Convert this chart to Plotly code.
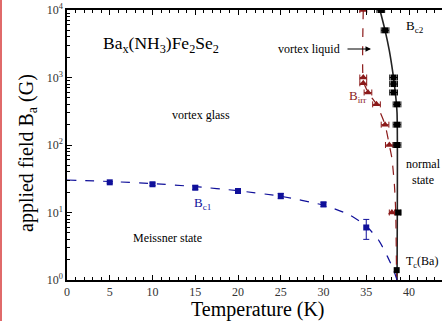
import plotly.graph_objects as go

# ---- data ----
bc1_T = [5, 10, 15, 20, 25, 30, 35]
bc1_B = [28.0, 26.2, 23.3, 20.8, 17.6, 13.2, 6.0]
bc1_err_up = [0.8, 1.2, 1.5, 1.5, 1.6, 1.0, 1.9]
bc1_err_dn = [0.8, 1.2, 1.5, 1.5, 1.6, 1.0, 2.0]

bc1_fit_T = [0, 5, 10, 15, 20, 25, 30, 33, 35, 36.5, 37.5, 38.2, 38.6]
bc1_fit_B = [30.3, 28.8, 26.8, 24.2, 21.0, 17.4, 12.8, 9.3, 6.3, 3.8, 2.2, 1.4, 1.0]

bc2_T = [36.7, 37.2, 38.2, 38.2, 38.2, 38.6, 38.6, 38.6, 38.75]
bc2_B = [10000, 5000, 1000, 800, 600, 400, 200, 100, 10]
bc2_Terr = [0.45, 0.45, 0.45, 0.45, 0.45, 0.45, 0.45, 0.45, 0.3]

tc_T = [38.56]
tc_B = [1.4]

bc2_line_T = [36.6, 37.2, 37.7, 38.1, 38.4, 38.6, 38.6]
bc2_line_B = [10000, 5000, 2500, 1200, 600, 300, 1]

birr_T = [34.65, 34.65, 34.65, 35.2, 36.2, 37.2, 37.7, 38.0]
birr_B = [10000, 1000, 820, 600, 400, 200, 100, 10]
birr_Terr = [0.4, 0.4, 0.4, 0.45, 0.45, 0.45, 0.45, 0.3]

birr_line_T = [34.65, 34.65, 35.2, 36.2, 37.2, 37.7, 38.0, 38.3, 38.45, 38.55]
birr_line_B = [10000, 900, 600, 400, 200, 100, 64, 25, 10, 1]

y_tickvals = [1, 10, 100, 1000, 10000]
y_ticktext = ["10<sup>0</sup>", "10<sup>1</sup>", "10<sup>2</sup>", "10<sup>3</sup>", "10<sup>4</sup>"]
x_tickvals = [0, 5, 10, 15, 20, 25, 30, 35, 40]

BLUE = "#10109a"
RED = "#8b1a1a"
SERIF = "Liberation Serif, Times New Roman, serif"

fig = go.Figure()

# Bc2 solid line
fig.add_trace(go.Scatter(x=bc2_line_T, y=bc2_line_B, mode="lines",
                         line=dict(color="#222222", width=1.6, shape="spline", smoothing=0.6),
                         hoverinfo="skip", showlegend=False))
# Birr dashed line
fig.add_trace(go.Scatter(x=birr_line_T, y=birr_line_B, mode="lines",
                         line=dict(color=RED, width=1.2, dash="dash", shape="spline", smoothing=0.5),
                         hoverinfo="skip", showlegend=False))
# Bc1 dashed fit
fig.add_trace(go.Scatter(x=bc1_fit_T, y=bc1_fit_B, mode="lines",
                         line=dict(color=BLUE, width=1.2, dash="dash", shape="spline", smoothing=0.6),
                         hoverinfo="skip", showlegend=False))

# Bc1 points
fig.add_trace(go.Scatter(x=bc1_T, y=bc1_B, mode="markers",
                         marker=dict(symbol="square", size=6, color=BLUE),
                         error_y=dict(type="data", array=bc1_err_up, arrayminus=bc1_err_dn,
                                      color=BLUE, thickness=1, width=3),
                         showlegend=False))
# Birr points
fig.add_trace(go.Scatter(x=birr_T, y=birr_B, mode="markers",
                         marker=dict(symbol="triangle-up", size=7, color=RED),
                         error_x=dict(type="data", array=birr_Terr, color=RED, thickness=1, width=3),
                         showlegend=False))
# Bc2 points
fig.add_trace(go.Scatter(x=bc2_T, y=bc2_B, mode="markers",
                         marker=dict(symbol="square", size=6, color="black"),
                         error_x=dict(type="data", array=bc2_Terr, color="black", thickness=1, width=3),
                         showlegend=False))
# Tc point
fig.add_trace(go.Scatter(x=tc_T, y=tc_B, mode="markers",
                         marker=dict(symbol="square", size=6, color="black"),
                         showlegend=False))

def T(px):
    return (px - 67) / 8.55

def L(py):
    return (280 - py) / 67.5

ann = []
def txt(text, xp, yp, size, color="black", xanchor="left"):
    ann.append(dict(text=text, x=T(xp), y=L(yp), xref="x", yref="y", showarrow=False,
                    xanchor=xanchor, yanchor="middle",
                    font=dict(family=SERIF, size=size, color=color)))

txt("Ba<sub>x</sub>(NH<sub>3</sub>)Fe<sub>2</sub>Se<sub>2</sub>", 101, 44, 17.5)
txt("vortex glass", 201, 115, 12, xanchor="center")
txt("vortex liquid", 342, 49, 12, xanchor="right")
txt("B<sub>c2</sub>", 404, 26, 13)
txt("B<sub>irr</sub>", 347, 96, 13, color=RED)
txt("normal<br>state", 404, 172, 12)
txt("T<sub>c</sub>(Ba)", 404, 262, 12)
txt("B<sub>c1</sub>", 192, 203, 13, color=BLUE)
txt("Meissner state", 167, 238, 12, xanchor="center")

# arrow for vortex liquid
ann.append(dict(x=T(371), y=L(49), xref="x", yref="y", ax=T(346), ay=L(49),
                axref="x", ayref="y", text="", showarrow=True, arrowhead=2,
                arrowsize=1, arrowwidth=1.1, arrowcolor="black"))

# axis titles
ann.append(dict(text="applied field B<sub>a</sub> (G)", x=-40 / 375, y=0.5 - 8 / 270, xref="paper", yref="paper",
                showarrow=False, textangle=-90, xanchor="center", yanchor="middle",
                font=dict(family=SERIF, size=20, color="black")))
ann.append(dict(text="Temperature (K)", x=(258 - 67) / 375, y=-29 / 270, xref="paper", yref="paper",
                showarrow=False, xanchor="center", yanchor="middle",
                font=dict(family=SERIF, size=20, color="black")))

fig.update_layout(
    width=442, height=321,
    margin=dict(l=67, r=0, t=10, b=41),
    paper_bgcolor="white", plot_bgcolor="white",
    annotations=ann,
    shapes=[dict(type="line", xref="paper", yref="paper",
                 x0=-66 / 375, x1=-66 / 375, y0=-41 / 270, y1=1 + 10 / 270,
                 line=dict(color="#e06a6a", width=2))],
)

fig.update_xaxes(range=[0, 43.86], showgrid=False, zeroline=False,
                 showline=True, linecolor="black", linewidth=1.5, mirror="ticks",
                 ticks="inside", ticklen=5, tickwidth=1, tickcolor="black",
                 tickvals=x_tickvals, ticktext=[str(v) for v in x_tickvals],
                 tickfont=dict(family=SERIF, size=12, color="#333333"),
                 minor=dict(ticks="inside", ticklen=3, dtick=1, tickcolor="black", showgrid=False))

fig.update_yaxes(type="log", range=[0, 4], showgrid=False, zeroline=False,
                 showline=True, linecolor="black", linewidth=1.5,
                 ticks="inside", ticklen=5, tickwidth=1, tickcolor="black",
                 tickvals=y_tickvals, ticktext=y_ticktext,
                 tickfont=dict(family=SERIF, size=12, color="#333333"),
                 minor=dict(ticks="inside", ticklen=3, dtick="D1", tickcolor="black", showgrid=False))

fig.write_html("out.html", config={"displayModeBar": False},
               post_script="document.body.style.margin='0';document.body.style.overflow='hidden';")
